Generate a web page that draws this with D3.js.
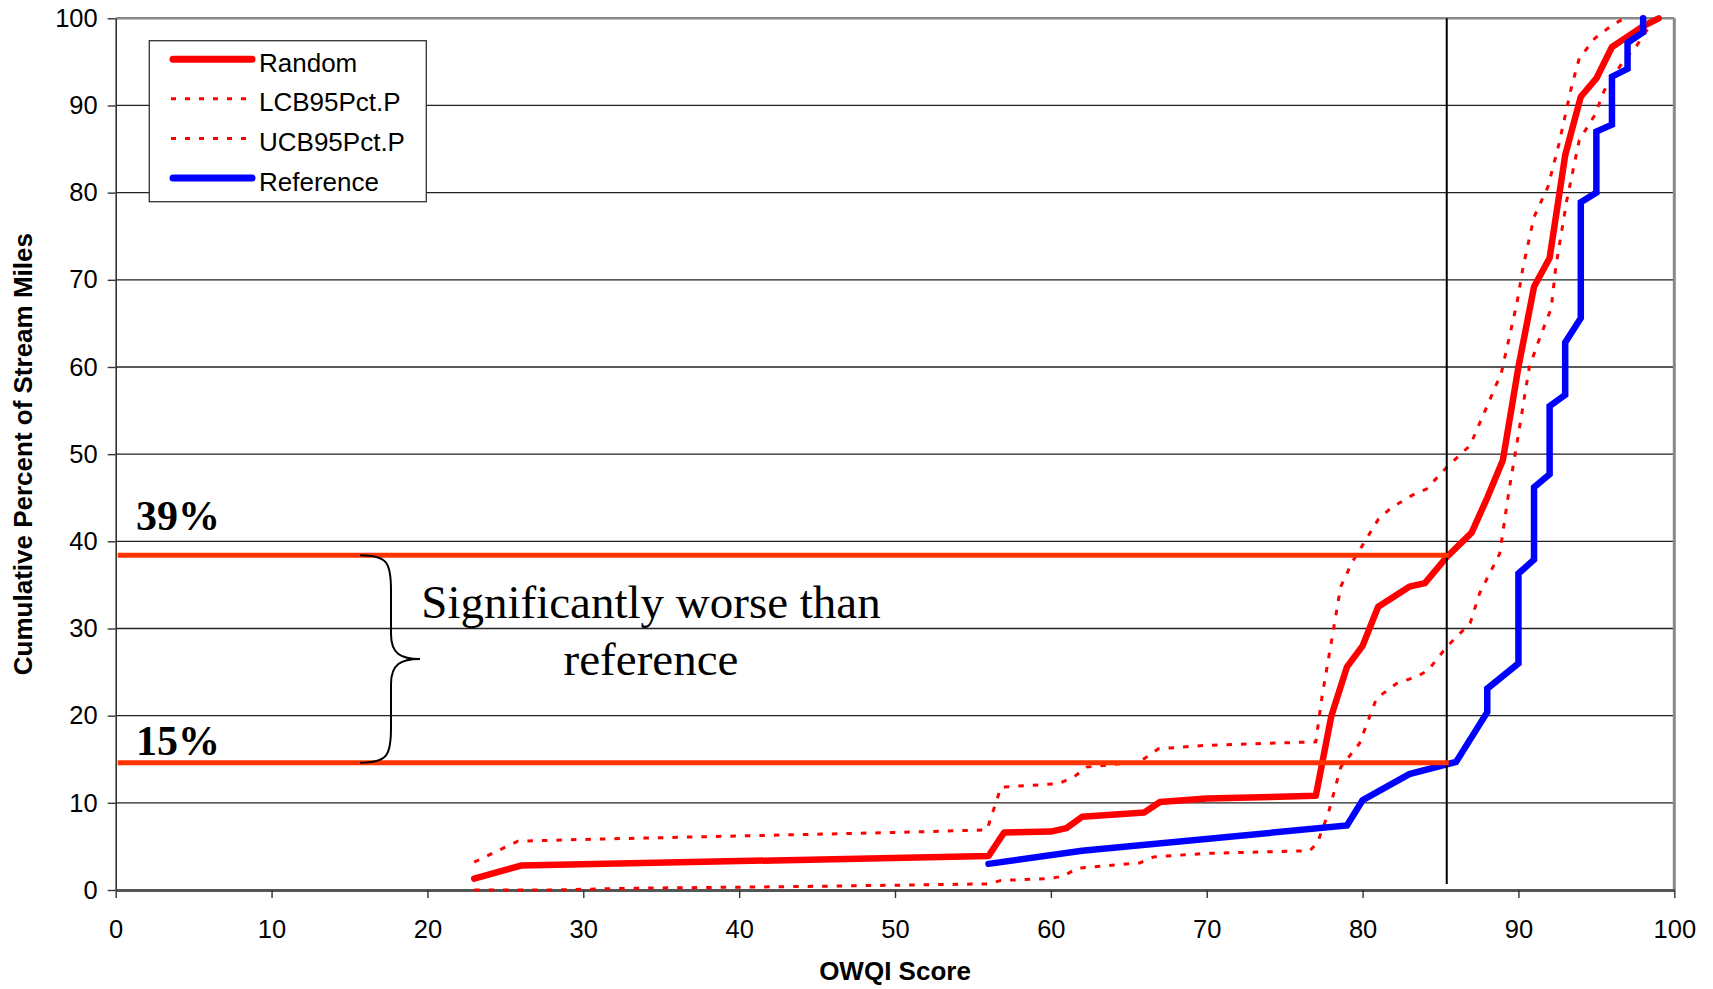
<!DOCTYPE html>
<html>
<head>
<meta charset="utf-8">
<script src="https://cdn.jsdelivr.net/npm/d3@7"></script>
<style>
  body { margin: 0; background: #fff; }
</style>
</head>
<body>
<script>
// data
var randomX = [23, 26, 56, 57, 60, 61, 62, 66, 67, 70, 77, 78, 79, 80, 81, 83, 84, 85.4, 87, 88, 89, 90, 91, 92, 93, 94, 95, 96, 97, 98, 99];
var randomY = [1.3, 2.8, 3.9, 6.6, 6.7, 7.1, 8.4, 8.9, 10.1, 10.5, 10.8, 20.0, 25.6, 28.0, 32.5, 34.8, 35.2, 38.2, 41.0, 45.0, 49.3, 60.0, 69.2, 72.5, 84.3, 91.0, 93.1, 96.7, 97.9, 99.1, 100];

var lcbX = [23, 28, 33, 44, 56, 56.8, 59.9, 60.8, 61.7, 65.7, 66.6, 70, 76.6, 77.1, 77.8, 78.6, 79.8, 80.9, 82.2, 83.5, 84.2, 85.4, 86.9, 87.5, 88.8, 89.4, 89.9, 90.7, 91.4, 92.1, 92.4, 93.1, 93.9, 94.9, 95.5, 96.7, 97.6, 98.6, 99];
var lcbY = [0, 0, 0.2, 0.4, 0.7, 1.1, 1.3, 1.6, 2.5, 3.1, 3.8, 4.2, 4.5, 5.4, 8.8, 14.1, 16.8, 22.0, 23.7, 24.5, 25.2, 27.9, 30.6, 34.0, 38.6, 45.9, 51.2, 60.0, 63.5, 66.7, 71.5, 79.1, 86.0, 88.9, 91.7, 95.0, 96.9, 99.6, 100];

var ucbX = [23, 25.8, 30, 40, 50, 55.9, 56.8, 60.5, 61.5, 62.3, 65.7, 66.9, 70, 77, 77.4, 78, 78.6, 79.3, 81, 81.8, 83.2, 84.1, 85.4, 86.9, 88.9, 89.9, 90.3, 91, 91.9, 92.6, 93.4, 93.9, 94.9, 96, 96.8];
var ucbY = [3.2, 5.6, 5.8, 6.2, 6.6, 6.9, 11.8, 12.2, 13.0, 14.1, 14.7, 16.2, 16.6, 17.0, 22.2, 28.5, 34.8, 37.5, 42.5, 43.8, 45.3, 46.0, 48.5, 51.0, 59.3, 67.3, 71.5, 77.2, 80.7, 85.6, 92.1, 95.4, 97.7, 99.2, 100];

var refX = [56, 62, 79, 80, 83, 86, 88, 88, 90, 90, 91, 91, 92, 92, 93, 93, 94, 94, 95, 95, 96, 96, 97, 97, 98, 98];
var refY = [3.0, 4.5, 7.4, 10.3, 13.3, 14.7, 20.4, 23.1, 26.0, 36.3, 37.9, 46.2, 47.7, 55.5, 56.8, 62.8, 65.6, 78.9, 80.0, 87.0, 87.8, 93.3, 94.2, 97.2, 98.4, 100];

var xTicks = [0, 10, 20, 30, 40, 50, 60, 70, 80, 90, 100];
var yTicks = [0, 10, 20, 30, 40, 50, 60, 70, 80, 90, 100];

var legendNames = ["Random", "LCB95Pct.P", "UCB95Pct.P", "Reference"];
var cutScore = 85.4;        // vertical marker
var bandLevels = [38.4, 14.6];
var bandLabels = ["39%", "15%"];
var noteLines = ["Significantly worse than", "reference"];

const width = 1713, height = 989;
const plotL = 115.7, plotR = 1674.3, plotT = 18.3, plotB = 890;

const svg = d3.select("body")
    .append("svg")
    .attr("width", width)
    .attr("height", height)
    .style("font-family", "'Liberation Sans', Arial, sans-serif");

var x = d3.scaleLinear().domain([0, 100]).range([plotL, plotR]);
var y = d3.scaleLinear().domain([0, 100]).range([plotB, plotT]);

// gridlines
svg.append("g")
    .selectAll("line")
    .data(yTicks.filter(d => d > 0 && d < 100))
    .enter()
    .append("line")
    .attr("x1", plotL).attr("x2", plotR)
    .attr("y1", d => y(d)).attr("y2", d => y(d))
    .attr("stroke", "#222")
    .attr("stroke-width", 1.3);

// frame top/right
svg.append("line").attr("x1", plotL).attr("x2", plotR).attr("y1", plotT).attr("y2", plotT)
    .attr("stroke", "#888").attr("stroke-width", 2.5);
svg.append("line").attr("x1", plotR).attr("x2", plotR).attr("y1", plotT).attr("y2", plotB)
    .attr("stroke", "#888").attr("stroke-width", 3);

// axes
var yAxis = svg.append("g")
    .attr("transform", "translate(" + plotL + ",0)")
    .call(d3.axisLeft(y).tickValues(yTicks).tickSize(8).tickPadding(10).tickSizeOuter(0));
var xAxis = svg.append("g")
    .attr("transform", "translate(0," + plotB + ")")
    .call(d3.axisBottom(x).tickValues(xTicks).tickSize(8).tickPadding(22).tickSizeOuter(0));

yAxis.select(".domain").attr("stroke", "#333").attr("stroke-width", 1.6);
xAxis.select(".domain").attr("stroke", "#555").attr("stroke-width", 3.2);
svg.selectAll(".tick line").attr("stroke", "#333").attr("stroke-width", 1.4);
svg.selectAll(".tick text")
    .attr("font-size", "25.5px")
    .attr("font-family", "'Liberation Sans', Arial, sans-serif")
    .attr("fill", "#000");

// axis titles
svg.append("text")
    .text("OWQI Score")
    .attr("x", (plotL + plotR) / 2)
    .attr("y", 980)
    .attr("text-anchor", "middle")
    .attr("font-size", "26px")
    .attr("font-weight", "bold");

svg.append("text")
    .text("Cumulative Percent of Stream Miles")
    .attr("transform", "translate(32," + (plotT + plotB) / 2 + ") rotate(-90)")
    .attr("text-anchor", "middle")
    .attr("font-size", "26px")
    .attr("font-weight", "bold");

// series
var line = d3.line().x(d => x(d[0])).y(d => y(d[1]));
function pairs(xs, ys) { return xs.map((v, i) => [v, ys[i]]); }

var dotted = "5.5,9";
svg.append("path")
    .attr("d", line(pairs(lcbX, lcbY)))
    .attr("fill", "none").attr("stroke", "#ff0000")
    .attr("stroke-width", 3).attr("stroke-dasharray", dotted);
svg.append("path")
    .attr("d", line(pairs(ucbX, ucbY)))
    .attr("fill", "none").attr("stroke", "#ff0000")
    .attr("stroke-width", 3).attr("stroke-dasharray", dotted);
svg.append("path")
    .attr("d", line(pairs(randomX, randomY)))
    .attr("fill", "none").attr("stroke", "#ff0000")
    .attr("stroke-width", 6.5).attr("stroke-linejoin", "round").attr("stroke-linecap", "round");
svg.append("path")
    .attr("d", line(pairs(refX, refY)))
    .attr("fill", "none").attr("stroke", "#0000ff")
    .attr("stroke-width", 6.5).attr("stroke-linejoin", "miter").attr("stroke-linecap", "round");

// vertical marker
svg.append("line")
    .attr("x1", x(cutScore)).attr("x2", x(cutScore))
    .attr("y1", plotT).attr("y2", plotB - 6)
    .attr("stroke", "#000").attr("stroke-width", 2);

// 39% / 15% bands
svg.append("g")
    .selectAll("line")
    .data(bandLevels)
    .enter()
    .append("line")
    .attr("x1", plotL + 2).attr("x2", x(cutScore) + 2)
    .attr("y1", d => y(d)).attr("y2", d => y(d))
    .attr("stroke", "#ff3300")
    .attr("stroke-width", 5);

var labelDy = [-25, -8];
svg.append("g")
    .selectAll("text")
    .data(bandLabels)
    .enter()
    .append("text")
    .text(d => d)
    .attr("x", 136)
    .attr("y", (d, i) => y(bandLevels[i]) + labelDy[i])
    .attr("font-family", "'Liberation Serif', 'Times New Roman', serif")
    .attr("font-weight", "bold")
    .attr("font-size", "42px");

// brace
var bTop = y(bandLevels[0]), bBot = y(bandLevels[1]), bMid = (bTop + bBot) / 2;
var bx0 = 360, bx1 = 391, bx2 = 420;
svg.append("path")
    .attr("d",
        "M" + bx0 + "," + bTop +
        " C" + (bx0 + 28) + "," + bTop + " " + bx1 + "," + (bTop + 8) + " " + bx1 + "," + (bTop + 35) +
        " L" + bx1 + "," + (bMid - 25) +
        " C" + bx1 + "," + (bMid - 5) + " " + (bx1 + 10) + "," + bMid + " " + bx2 + "," + bMid +
        " C" + (bx1 + 10) + "," + bMid + " " + bx1 + "," + (bMid + 5) + " " + bx1 + "," + (bMid + 25) +
        " L" + bx1 + "," + (bBot - 35) +
        " C" + bx1 + "," + (bBot - 8) + " " + (bx0 + 28) + "," + bBot + " " + bx0 + "," + bBot)
    .attr("fill", "none")
    .attr("stroke", "#000")
    .attr("stroke-width", 2);

svg.append("g")
    .selectAll("text")
    .data(noteLines)
    .enter()
    .append("text")
    .text(d => d)
    .attr("x", 651)
    .attr("y", (d, i) => 618 + i * 57)
    .attr("text-anchor", "middle")
    .attr("font-family", "'Liberation Serif', 'Times New Roman', serif")
    .attr("font-size", "47px");

// legend
var legend = svg.append("g");
legend.append("rect")
    .attr("x", 149.3).attr("y", 40.7)
    .attr("width", 277).attr("height", 161)
    .attr("fill", "#fff").attr("stroke", "#333").attr("stroke-width", 1.3);

var legendStyle = [
    { color: "#ff0000", w: 7, dash: null },
    { color: "#ff0000", w: 3, dash: "5,9" },
    { color: "#ff0000", w: 3, dash: "5,9" },
    { color: "#0000ff", w: 7, dash: null }
];
var rows = legend.selectAll("g.row")
    .data(legendNames)
    .enter()
    .append("g")
    .attr("class", "row")
    .attr("transform", (d, i) => "translate(0," + (71.7 + i * 39.6) + ")");

rows.append("line")
    .attr("x1", (d, i) => legendStyle[i].dash ? 171 : 173)
    .attr("x2", 252)
    .attr("y1", -12.5).attr("y2", -12.5)
    .attr("stroke", (d, i) => legendStyle[i].color)
    .attr("stroke-width", (d, i) => legendStyle[i].w)
    .attr("stroke-linecap", (d, i) => legendStyle[i].dash ? "butt" : "round")
    .attr("stroke-dasharray", (d, i) => legendStyle[i].dash);

rows.append("text")
    .text(d => d)
    .attr("x", 259)
    .attr("y", 0)
    .attr("font-size", "26px");
</script>
</body>
</html>
